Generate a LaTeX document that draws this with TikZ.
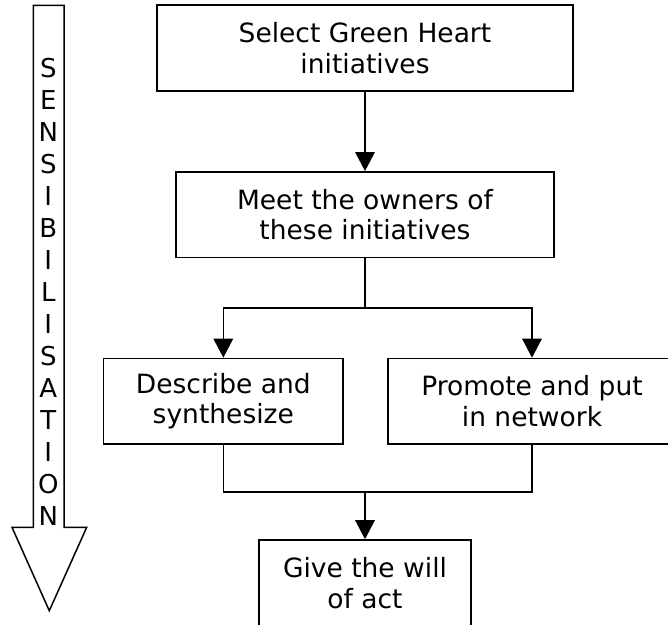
\documentclass[tikz,border=0pt]{standalone}
\usepackage{fontspec}
\setmainfont{DejaVu Sans}
\usetikzlibrary{arrows.meta}
\begin{document}
\begin{tikzpicture}[x=1pt,y=-1pt,
  box/.style={draw=black, line width=1.7pt, inner sep=0pt, align=center,
    font=\fontsize{26.5}{30.7}\selectfont, minimum height=85.5pt},
  conn/.style={line width=1.5pt},
  arr/.style={conn, -{Triangle[length=19pt,width=19.5pt]}},
  letter/.style={inner sep=0pt, anchor=base, font=\fontsize{26}{30}\selectfont},
  bigarrow/.style={draw=black, line width=1.5pt, fill=white}]
\path[use as bounding box, clip] (0,0) rectangle (668,624);
% boxes
\node[box, minimum width=416pt] (b1) at (365,48) {Select Green Heart\\initiatives};
\node[box, minimum width=378pt] (b2) at (365,214.7) {Meet the owners of\\these initiatives};
\node[box, minimum width=239.4pt] (b3) at (223.3,401.3) {Describe and\\synthesize};
\node[box, minimum width=288pt] (b4) at (532,401.3) {Promote and put\\in network};
\node[box, minimum width=212pt] (b5) at (365,582.8) {Give the will\\of act};
\coordinate (split) at (365,308);
\coordinate (merge) at (365,492);
% connectors
\draw[arr] (b1.south) -- (b2.north);
\draw[conn] (b2.south) -- (split);
\draw[arr] (split) -| (b3.north);
\draw[arr] (split) -| (b4.north);
\draw[conn] (b3.south) |- (merge) -| (b4.south);
\draw[arr] (merge) -- (b5.north);
% big arrow
\draw[bigarrow] (33.3,5.3) -- (64,5.3) -- (64,527.3) -- (86.7,527.3) -- (49.3,610.7)
  -- (12,527.3) -- (33.3,527.3) -- cycle;
\foreach \c [count=\i] in {S,E,N,S,I,B,I,L,I,S,A,T,I,O,N}
  \node[letter] (l\i) at (48.3,{77.3+32*(\i-1)}) {\c};
\end{tikzpicture}
\end{document}
